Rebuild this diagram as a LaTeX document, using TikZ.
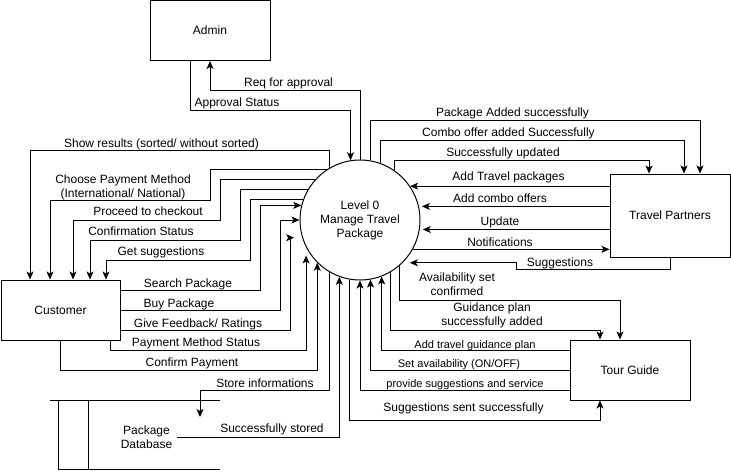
\documentclass[tikz,border=0pt]{standalone}
\usepackage{fontspec}
\setmainfont{Liberation Sans}
\usetikzlibrary{arrows.meta}
\begin{document}
\begin{tikzpicture}[x=1pt,y=-1pt,
  every node/.style={font=\fontsize{12}{14}\selectfont},
  entity/.style={draw, line width=1pt, minimum width=120pt, minimum height=60pt, inner sep=0pt},
  proc/.style={draw, circle, line width=1pt, minimum size=120pt, inner sep=0pt, align=center},
  flow/.style={line width=1pt, -{Stealth[length=8pt,width=7pt,inset=2pt]}},
  plain/.style={line width=1pt},
  lbl/.style={inner sep=0pt, text height=10.5pt, text depth=2pt},
  mlbl/.style={inner sep=0pt, align=center},
  slbl/.style={inner sep=0pt, text height=9.6pt, text depth=1.8pt, font=\fontsize{11}{13}\selectfont}]
\fill[white] (0,0) rectangle (731,472);
\useasboundingbox (0,0) rectangle (731,472);

% entities and process
\node[entity] (admin) at (210,30.5) {Admin};
\node[proc] (lvl) at (360,220) {Level 0\\Manage Travel\\Package};
\node[entity, minimum width=119pt] (cust) at (60.5,310) {Customer};
\node[entity, minimum height=83pt] (tp) at (670,215.5) {Travel Partners};
\node[entity] (tg) at (630,370) {Tour Guide};

% data store
\node[mlbl] (db) at (146.5,437) {Package\\Database};
\draw[plain] (50,400.5) -- (220,400.5);
\draw[plain] (58,469.5) -- (220,469.5);
\draw[plain] (58,400.5) -- (58,469.5);
\draw[plain] (88,400.5) -- (88,469.5);
\coordinate (storeend) at (200,417);

% admin flows
\draw[flow] (lvl.90) -- (lvl.90 |- 0,90) -| (admin.south);
\draw[flow] (admin.south -| 190,0) -- (190,110) -| (lvl.99.6);

% process to customer
\draw[flow] (lvl.120) -- (lvl.120 |- 0,150) -| (cust.north -| 30,0);
\draw[flow] (lvl.123.6) -- (lvl.123.6 -| 210,0) -- (210,200) -| (cust.north -| 50,0);
\draw[flow] (lvl.138.2) -- (lvl.138.2 -| 220,0) -- (220,220) -| (cust.north -| 73,0);
\draw[flow] (lvl.150) -- (lvl.150 -| 240,0) -- (240,240) -| (cust.north -| 90,0);
\draw[flow] (lvl.160.5) -- (lvl.160.5 -| 250,0) -- (250,260) -| (cust.north -| 106,0);

% customer to process
\draw[flow] (cust.east |- 0,290) -| (260,0 |- lvl.166.5) -- (lvl.166.5);
\draw[flow] (cust.east) -| (280,0 |- lvl.180) -- (lvl.180);
\draw[flow] (cust.east |- 0,330) -| (290,0 |- lvl.197.5) -- ([xshift=-8pt]lvl.197.5);
\draw[flow] (cust.south -| 110,0) -- (110,350) -| ([yshift=-8pt]lvl.207.9);
\draw[flow] (cust.south -| 60,0) -- (60,370) -| (lvl.225.6);

% data store flows
\draw[flow] (lvl.240) -- (lvl.240 |- 0,390) -| (storeend);
\draw[flow] ([xshift=5pt]db.east) -| (lvl.250.5);

% tour guide flows
\draw[flow] (lvl.311.8) -- (lvl.311.8 |- 0,300) -| (tg.north -| 620,0);
\draw[flow] (lvl.300) -- (lvl.300 |- 0,330) -| (tg.north -| 600,0);
\draw[flow] (tg.west |- 0,350) -| (lvl.291.5);
\draw[flow] (tg.west) -| (lvl.280.6);
\draw[flow] (tg.west |- 0,390) -| (lvl.270);
\draw[flow] (lvl.260.4) -- (lvl.260.4 |- 0,420) -| (tg.south -| 600,0);

% travel partner flows
\draw[flow] (lvl.80.4) -- (lvl.80.4 |- 0,120) -| (tp.north -| 700,0);
\draw[flow] (lvl.70.5) -- (lvl.70.5 |- 0,140.5) -| (tp.north -| 684,0);
\draw[flow] (lvl.55.5) -- (lvl.55.5 |- 0,160.5) -| (tp.north -| 649,0);
\draw[flow] (tp.west |- lvl.34.5) -- (lvl.34.5);
\draw[flow] (tp.west |- lvl.13.5) -- ([xshift=3pt]lvl.13.5);
\draw[flow] (tp.west |- lvl.351.4) -- ([xshift=3pt]lvl.351.4);
\draw[flow] (lvl.331.1) -- (lvl.331.1 -| tp.west);
\draw[flow] (tp.south) -- (tp.south |- 0,269.5) -| (516,0 |- lvl.315.6) -- ([xshift=7pt]lvl.315.6);

% labels
\node[lbl] (t1) at (288.5,82.5) {Req for approval};
\node[lbl] (t2) at (237,102.5) {Approval Status};
\node[lbl] (t3) at (161.5,143) {Show results (sorted/ without sorted)};
\node[mlbl] (t4) at (123,187) {Choose Payment Method\\(International/ National)};
\node[lbl] (t5) at (148,211.5) {Proceed to checkout};
\node[lbl] (t6) at (141,231.5) {Confirmation Status};
\node[lbl] (t7) at (161,251.5) {Get suggestions};
\node[lbl] (t8) at (188,283.5) {Search Package};
\node[lbl] (t9) at (179,303.5) {Buy Package};
\node[lbl] (t10) at (198,323.5) {Give Feedback/ Ratings};
\node[lbl] (t11) at (196,342) {Payment Method Status};
\node[lbl] (t12) at (192,362) {Confirm Payment};
\node[lbl] (t13) at (265,383.5) {Store informations};
\node[lbl] (t14) at (272,428) {Successfully stored};
\node[lbl] (t15) at (512.5,112.5) {Package Added successfully};
\node[lbl] (t16) at (508.5,132.5) {Combo offer added Successfully};
\node[lbl] (t17) at (503,152.5) {Successfully updated};
\node[lbl] (t18) at (508.5,176.5) {Add Travel packages};
\node[lbl] (t19) at (500,198.5) {Add combo offers};
\node[lbl] (t20) at (500,221.5) {Update};
\node[lbl] (t21) at (500,242.5) {Notifications};
\node[lbl] (t22) at (560,262.5) {Suggestions};
\node[mlbl] (t23) at (457,284) {Availability set\\confirmed};
\node[mlbl] (t24) at (492,315) {Guidance plan\\successfully added};
\node[slbl] (t25) at (475,344.5) {Add travel guidance plan};
\node[slbl] (t26) at (459,363.5) {Set availability (ON/OFF)};
\node[slbl] (t27) at (465,383.5) {provide suggestions and service};
\node[lbl] (t28) at (463.5,407.5) {Suggestions sent successfully};
\end{tikzpicture}
\end{document}
